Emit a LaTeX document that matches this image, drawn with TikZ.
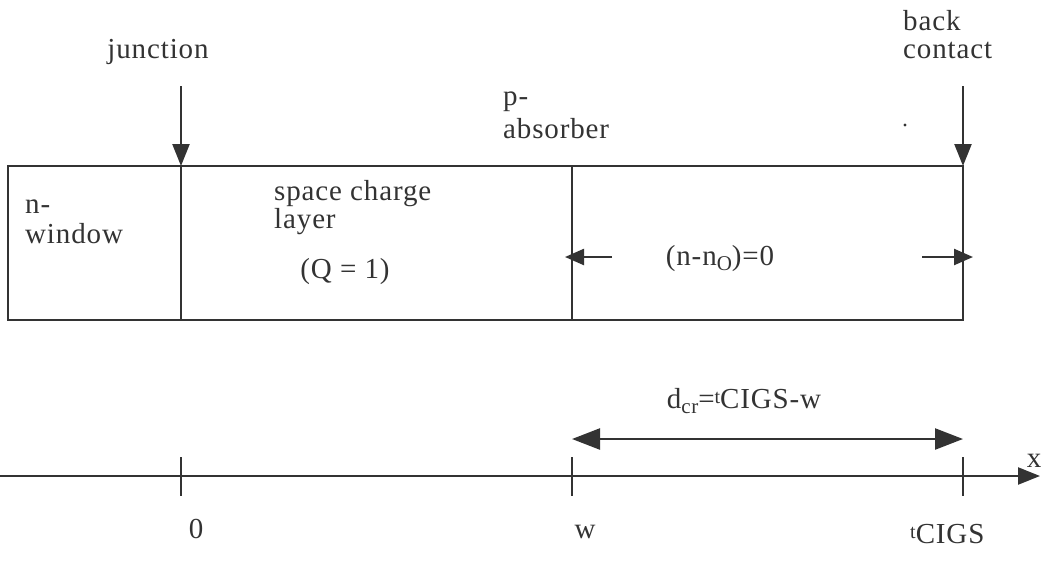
\documentclass[tikz,border=0pt]{standalone}
\usepackage{fontspec}
\setmainfont{Liberation Serif}[LetterSpace=3]
\usetikzlibrary{arrows.meta}
\definecolor{ink}{HTML}{333333}
\newcommand{\smallt}{\raisebox{5pt}{\fontsize{20}{20}\selectfont t}}
\newcommand{\mysub}[1]{\raisebox{-5pt}{\fontsize{21}{21}\selectfont #1}}
\begin{document}
\begin{tikzpicture}[x=1pt,y=-1pt,
  ln/.style={line width=2.4pt,draw=ink},
  tip/.style={-{Triangle[length=22pt,width=17pt]}},
  tips/.style={-{Triangle[length=19pt,width=16pt]}},
  tipb/.style={{Triangle[length=28pt,width=21pt]}-{Triangle[length=28pt,width=21pt]}},
  lbl/.style={font=\fontsize{29}{28}\selectfont,text=ink,inner sep=0pt},
  lbll/.style={lbl,align=left,anchor=base west}]
\useasboundingbox (0,0) rectangle (1049,563);
% box
\coordinate (tl) at (8,166); \coordinate (br) at (963,320);
\draw[ln] (tl) rectangle (br);
\coordinate (jt) at (181,166); \coordinate (jb) at (181,320);
\coordinate (wt) at (572,166); \coordinate (wb) at (572,320);
\coordinate (bt) at (963,166);
\draw[ln] (jt) -- (jb);
\draw[ln] (wt) -- (wb);
% top arrows
\coordinate (ja) at (181,86); \coordinate (ba) at (963,86);
\draw[ln,tip] (ja) -- (jt);
\draw[ln,tip] (ba) -- (bt);
\node[lbl,anchor=base] (junc) at (158,58) {junction};
% multi-line nodes: base anchor is the last line's baseline
\node[lbll] (back) at (903,58) {back\\contact};
\node[lbll] (pabs) at (503,138) {p-\\[5pt]absorber};
\fill[ink] (905,125) circle (1.6pt);
% inside labels
\node[lbll] (nwin) at (25,243) {n-\\[2pt]window};
\node[lbll] (scl) at (274,228) {space charge\\layer};
\node[lbl,anchor=base] (q) at (345,278) {(Q = 1)};
\node[lbl,anchor=base] (nn) at (720,265) {(n-n\mysub{O})=0};
\coordinate (la) at (612,257); \coordinate (lt) at (565,257);
\coordinate (ra) at (922,257); \coordinate (rt) at (973,257);
\draw[ln,tips] (la) -- (lt);
\draw[ln,tips] (ra) -- (rt);
% dcr arrow
\coordinate (d1) at (572,439); \coordinate (d2) at (963,439);
\draw[ln,tipb] (d1) -- (d2);
\node[lbl,anchor=base] (dlab) at (744,408) {d\mysub{cr}=\smallt CIGS-w};
% axis
\coordinate (a0) at (0,476); \coordinate (a1) at (1040,476);
\draw[ln,tip] (a0) -- (a1);
\node[lbl] (xl) at (1034,461) {x};
\foreach \n/\xx in {t0/181,tw/572,tc/963}{
  \coordinate (\n a) at (\xx,457); \coordinate (\n b) at (\xx,496);
  \draw[ln] (\n a) -- (\n b);
}
\node[lbl,anchor=base] (z) at (196,538) {0};
\node[lbl,anchor=base] (wl) at (585,538) {w};
\node[lbll] (tcl) at (910,543) {\smallt CIGS};
\end{tikzpicture}
\end{document}
